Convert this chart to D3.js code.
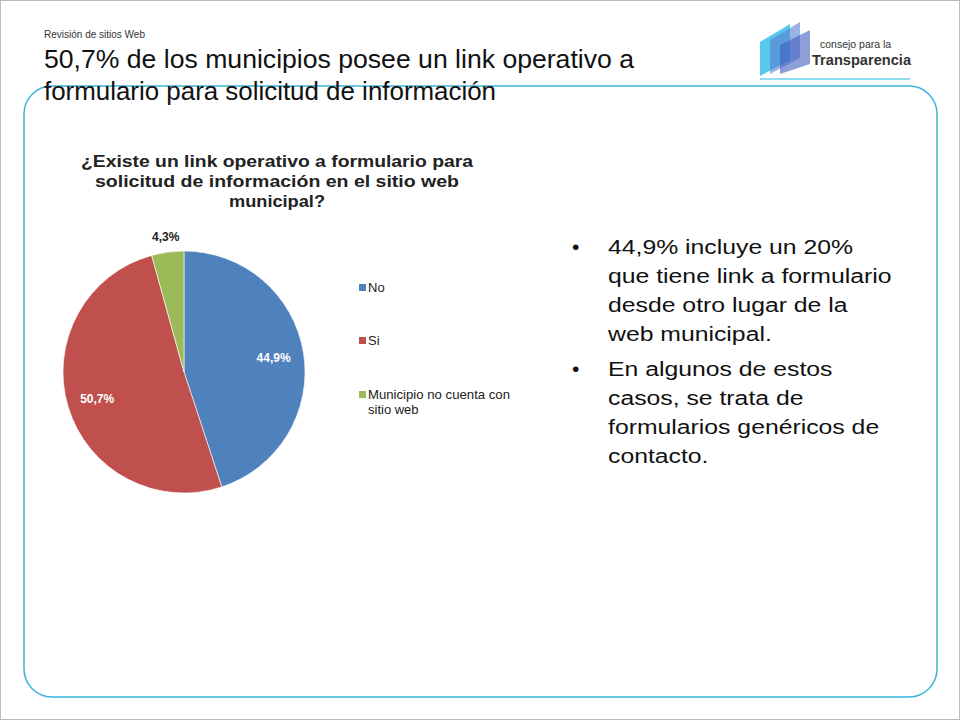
<!DOCTYPE html>
<html><head><meta charset="utf-8">
<script src="https://cdn.jsdelivr.net/npm/d3@7"></script>
<style>body{margin:0;background:#fff}svg{display:block;font-family:"Liberation Sans",Arial,sans-serif}</style>
</head><body>
<svg id="c" width="960" height="720"></svg>
<script>
const categories = ["No", "Si", "Municipio no cuenta con sitio web"];
const values = [44.9, 50.7, 4.3];
const valueLabels = ["44,9%", "50,7%", "4,3%"];
const colors = ["#4F81BD", "#C0504D", "#9BBB59"];

const svg = d3.select("#c");
svg.append("rect").attr("x",0.5).attr("y",0.5).attr("width",959).attr("height",719).attr("fill","#fff").attr("stroke","#bbb");
svg.append("rect").attr("x",24).attr("y",86).attr("width",913).attr("height",611).attr("rx",28)
  .attr("fill","none").attr("stroke","#3bb4dc").attr("stroke-width",1.5);

function txt(x,y,s,t,opt={}){
  const e=(opt.parent||svg).append("text").attr("x",x).attr("y",y).attr("font-size",s).attr("fill",opt.fill||"#111").text(t);
  if(opt.bold) e.attr("font-weight","bold");
  if(opt.anchor) e.attr("text-anchor",opt.anchor);
  if(opt.len) e.attr("textLength",opt.len).attr("lengthAdjust","spacingAndGlyphs");
  return e;
}
txt(44,38,10,"Revisión de sitios Web",{fill:"#333"});
txt(44,68,25,"50,7% de los municipios posee un link operativo a",{len:590});
txt(44,100,25,"formulario para solicitud de información",{len:452});

// logo
svg.append("path").attr("d","M760,76 L760,42 L790,24 L790,60 Z").attr("fill","#39c0e8").attr("opacity",0.85);
svg.append("path").attr("d","M770,74 L770,40 L800,22 L800,58 Z").attr("fill","#5a7fd0").attr("opacity",0.6);
svg.append("path").attr("d","M780,74 L780,45 L810,30 L810,64 Z").attr("fill","#3f5fbf").attr("opacity",0.6);
txt(820,48,10.5,"consejo para la",{fill:"#333"});
txt(812,65,15,"Transparencia",{fill:"#333",bold:true,len:99});
svg.append("rect").attr("x",760).attr("y",78).attr("width",150).attr("height",2).attr("fill","#8fdcf2");

// chart title
const ct=[["¿Existe un link operativo a formulario para",392],["solicitud de información en el sitio web",364],["municipal?",96]];
ct.forEach((t,i)=>txt(277,167+i*20,16,t[0],{anchor:"middle",bold:true,fill:"#222",len:t[1]}));

const cx=184, cy=372, r=121;
const pie = d3.pie().sort(null).value(d=>d)(values);
const arc = d3.arc().innerRadius(0).outerRadius(r);
const g = svg.append("g").attr("transform",`translate(${cx},${cy})`);
g.selectAll("path").data(pie).join("path").attr("d",arc).attr("fill",(d,i)=>colors[i]).attr("stroke","#fff").attr("stroke-width",0.6);
const la = d3.arc().innerRadius(r*0.75).outerRadius(r*0.75);
pie.forEach((d,i)=>{
  let [x,y] = la.centroid(d);
  let fill="#fff";
  if(i===2){ const o=d3.arc().innerRadius(r+15).outerRadius(r+15).centroid(d); x=o[0]; y=o[1]; fill="#222"; }
  g.append("text").attr("x",x).attr("y",y).attr("dy","0.35em").attr("text-anchor","middle").attr("font-size",12).attr("font-weight","bold").attr("fill",fill).text(valueLabels[i]);
});

// legend
const legY=[288,341,395];
const legLines=[["No"],["Si"],["Municipio no cuenta con","sitio web"]];
categories.forEach((c,i)=>{
  svg.append("rect").attr("x",359).attr("y",legY[i]-4).attr("width",7).attr("height",7).attr("fill",colors[i]);
  legLines[i].forEach((t,j)=>{const e=txt(368,legY[i]+4+j*15,13,t,{fill:"#222"}); if(t.length>20) e.attr("textLength",142).attr("lengthAdjust","spacingAndGlyphs");});
});

// bullets
const bullets=[["44,9% incluye un 20%","que tiene link a formulario","desde otro lugar de la","web municipal."],["En algunos de estos","casos, se trata de","formularios genéricos de","contacto."]];
const bg = svg.append("g").attr("transform","translate(608,0) scale(1.18,1)");
let y=254;
bullets.forEach(b=>{
  txt(572,y,21,"•");
  b.forEach((t,j)=>txt(0,y+j*29,21,t,{parent:bg}));
  y+=b.length*29+6;
});
</script>
</body></html>
